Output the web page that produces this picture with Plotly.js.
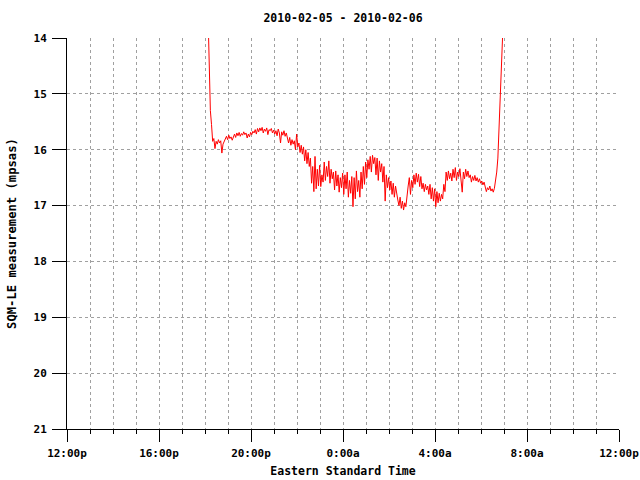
<!DOCTYPE html>
<html>
<head>
<meta charset="utf-8">
<script src="https://cdn.plot.ly/plotly-3.0.1.min.js"></script>
<style>html,body{margin:0;padding:0;background:#fff;}#chart{width:640px;height:480px;}</style>
</head>
<body>
<div id="chart"></div>
<script>
// Minutes after 12:00 noon on 2010-02-05
const sampleMinutes = [
368,371,374,377,380,383,386,389,392,395,
398,401,404,407,410,413,416,419,422,425,
428,431,434,437,440,443,446,449,452,455,
458,461,464,467,470,473,476,479,482,485,
488,491,494,497,500,503,506,509,512,515,
518,521,524,527,530,533,536,539,542,545,
548,551,554,557,560,563,566,569,572,575,
578,581,584,587,590,593,596,599,602,605,
608,611,614,617,620,623,626,629,632,635,
638,641,644,647,650,653,656,659,662,665,
668,671,674,677,680,683,686,689,692,695,
698,701,704,707,710,713,716,719,722,725,
728,731,734,737,740,743,746,749,752,755,
758,761,764,767,770,773,776,779,782,785,
788,791,794,797,800,803,806,809,812,815,
818,821,824,827,830,833,836,839,842,845,
848,851,854,857,860,863,866,869,872,875,
878,881,884,887,890,893,896,899,902,905,
908,911,914,917,920,923,926,929,932,935,
938,941,944,947,950,953,956,959,962,965,
968,971,974,977,980,983,986,989,992,995,
998,1001,1004,1007,1010,1013,1016,1019,1022,1025,
1028,1031,1034,1037,1040,1043,1046,1049,1052,1055,
1058,1061,1064,1067,1070,1073,1076,1079,1082,1085,
1088,1091,1094,1097,1100,1103,1106,1109,1112,1115,
1118,1121,1124,1127,1130,1133,1136,1139
];
// SQM-LE readings (mpsas)
const sqmValues = [
13.6,14.75,15.3,15.55,15.85,15.80,15.98,15.85,15.90,15.82,
15.88,15.84,16.06,15.90,15.86,15.80,15.76,15.82,15.74,15.80,
15.77,15.83,15.75,15.72,15.78,15.70,15.75,15.69,15.76,15.71,
15.74,15.68,15.73,15.70,15.79,15.72,15.77,15.69,15.73,15.67,
15.70,15.64,15.72,15.62,15.68,15.61,15.66,15.60,15.70,15.63,
15.67,15.61,15.73,15.64,15.66,15.62,15.70,15.65,15.72,15.66,
15.75,15.63,15.70,15.88,15.68,15.74,15.66,15.76,15.70,15.80,
15.88,15.78,15.92,15.82,15.90,15.84,16.00,15.72,15.95,15.88,
16.05,15.92,16.08,15.95,16.20,16.00,16.25,16.05,16.30,16.15,
16.60,16.30,16.75,16.12,16.70,16.35,16.65,16.28,16.66,16.45,
16.58,16.22,16.55,16.30,16.48,16.20,16.60,16.35,16.52,16.40,
16.72,16.38,16.65,16.45,16.76,16.50,16.68,16.42,16.80,16.45,
16.70,16.40,16.85,16.55,16.78,16.48,17.02,16.50,16.88,16.38,
16.75,16.55,16.85,16.40,16.70,16.30,16.62,16.22,16.50,16.18,
16.35,16.12,16.40,16.10,16.25,16.14,16.45,16.15,16.55,16.20,
16.40,16.25,16.58,16.30,16.92,16.45,16.68,16.50,16.72,16.56,
16.80,16.60,16.85,16.65,16.82,16.90,17.00,16.85,17.05,16.92,
17.08,16.95,17.02,16.78,16.65,16.50,16.80,16.55,16.68,16.45,
16.62,16.42,16.58,16.44,16.66,16.48,16.70,16.60,16.75,16.62,
16.72,16.65,16.80,16.62,16.88,16.68,16.92,16.70,17.02,16.75,
16.95,16.78,16.92,16.80,16.88,16.62,16.75,16.40,16.55,16.38,
16.52,16.42,16.56,16.35,16.50,16.32,16.55,16.40,16.48,16.34,
16.52,16.76,16.40,16.52,16.35,16.48,16.38,16.50,16.45,16.58,
16.48,16.55,16.46,16.56,16.50,16.58,16.52,16.60,16.56,16.63,
16.58,16.66,16.75,16.68,16.72,16.65,16.74,16.70,16.76,16.69,
16.58,16.40,16.15,15.70,15.20,14.60,14.10,13.5
];
const xTickVals = [0, 240, 480, 720, 960, 1200, 1440];
const xTickText = ["12:00p", "16:00p", "20:00p", "0:00a", "4:00a", "8:00a", "12:00p"];
const yTickVals = [14, 15, 16, 17, 18, 19, 20, 21];

const FONT = "DejaVu Sans Mono";
const gridStyle = {color: "#a0a0a0", dash: "3px,3px"};

Plotly.newPlot("chart", [{
  x: sampleMinutes,
  y: sqmValues,
  type: "scatter",
  mode: "lines",
  line: {color: "#ff0000", width: 1},
  hoverinfo: "skip"
}], {
  width: 640, height: 480,
  paper_bgcolor: "#ffffff", plot_bgcolor: "#ffffff",
  margin: {l: 67, r: 21, t: 38, b: 51, pad: 0},
  showlegend: false,
  font: {family: FONT, size: 11, color: "#000", weight: "bold"},
  title: {
    text: "2010-02-05 - 2010-02-06",
    font: {family: FONT, size: 11.5, color: "#000", weight: "bold"},
    x: 0.5, xref: "paper", xanchor: "center",
    y: 1 - 18/480, yref: "container", yanchor: "middle"
  },
  xaxis: {
    range: [0, 1440],
    tickmode: "array", tickvals: xTickVals, ticktext: xTickText,
    ticks: "outside", ticklen: 12, tickcolor: "#000", tickwidth: 1,
    ticklabelstandoff: 2,
    showline: true, linecolor: "#000", linewidth: 1, mirror: false,
    showgrid: true, gridcolor: gridStyle.color, griddash: gridStyle.dash, gridwidth: 1,
    zeroline: false,
    tickfont: {family: FONT, size: 11, color: "#000", weight: "bold"},
    minor: {dtick: 60, tick0: 0, ticks: "outside", ticklen: 4, tickcolor: "#000",
            showgrid: true, gridcolor: gridStyle.color, griddash: gridStyle.dash, gridwidth: 1},
    title: {text: "Eastern Standard Time", standoff: 7,
            font: {family: FONT, size: 11.5, color: "#000", weight: "bold"}},
    fixedrange: true
  },
  yaxis: {
    range: [21, 14],
    tickmode: "array", tickvals: yTickVals,
    ticks: "outside", ticklen: 14, tickcolor: "#000", tickwidth: 1,
    ticklabelstandoff: 3,
    showline: true, linecolor: "#000", linewidth: 1, mirror: false,
    showgrid: true, gridcolor: gridStyle.color, griddash: gridStyle.dash, gridwidth: 1,
    zeroline: false,
    tickfont: {family: FONT, size: 11, color: "#000", weight: "bold"},
    title: {text: "SQM-LE measurement (mpsas)", standoff: 14,
            font: {family: FONT, size: 12.2, color: "#000", weight: "bold"}},
    fixedrange: true
  }
}, {staticPlot: true});
</script>
</body>
</html>
